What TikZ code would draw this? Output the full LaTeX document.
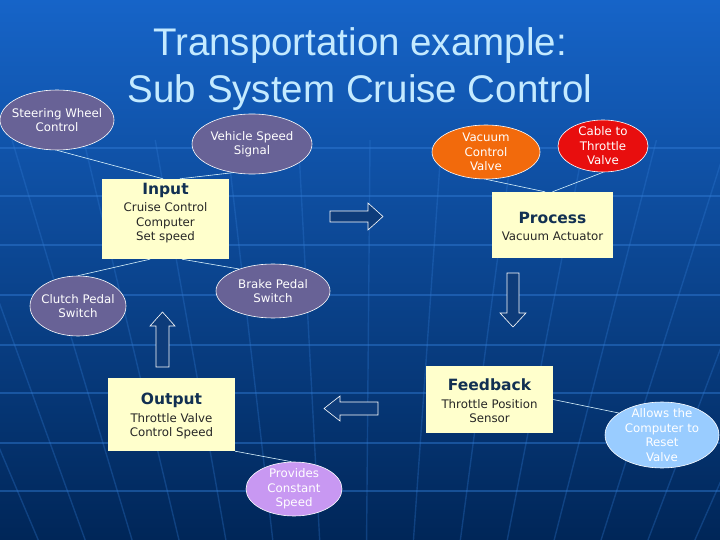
\documentclass[tikz,border=0pt]{standalone}
\usepackage{fontspec}
\setmainfont{DejaVu Sans}
\newfontfamily\titlefont{Liberation Sans}
\usetikzlibrary{shapes.geometric}

\definecolor{slidetop}{RGB}{22,100,200}
\definecolor{slidemid}{RGB}{10,72,156}
\definecolor{slidebot}{RGB}{0,38,88}
\definecolor{gridblue}{RGB}{50,125,215}
\definecolor{titlecyan}{RGB}{196,234,255}
\definecolor{slate}{RGB}{104,98,150}
\definecolor{vacorange}{RGB}{242,106,12}
\definecolor{cablered}{RGB}{232,14,14}
\definecolor{lilac}{RGB}{200,152,242}
\definecolor{skyblue}{RGB}{153,204,255}
\definecolor{paleyellow}{RGB}{255,255,204}
\definecolor{headnavy}{RGB}{18,48,82}
\definecolor{arrowblue}{RGB}{14,60,122}

\tikzset{
  bubble/.style={ellipse, draw=white, line width=0.6pt, inner sep=-7pt, text=white, align=center, font=\fontsize{11.8}{14.5}\selectfont},
  stagebox/.style={rectangle, fill=paleyellow, inner sep=0pt},
  stagetext/.style={anchor=north, inner sep=0pt, align=center, text=black!85, font=\fontsize{11.8}{14.5}\selectfont},
  link/.style={draw=white!85!cyan, line width=0.6pt},
  blockarrow/.style={fill=arrowblue, draw=white, line width=0.6pt},
  gridline/.style={draw=gridblue, line width=1.4pt, opacity=0.45}
}
\newcommand{\stagehead}[1]{{\fontsize{15.5}{18}\selectfont\bfseries\color{headnavy}#1}}

\begin{document}
\begin{tikzpicture}[x=1pt,y=1pt,yscale=-1,xscale=1]
	\useasboundingbox (0,0) rectangle (720,540);

	% Background
	\shade[top color=slidetop, middle color=slidemid, bottom color=slidebot] (0,0) rectangle (720,540);
	\foreach \y in {148,196,245,295,345,393,443,491}
		\draw[gridline] (0,\y) -- (720,\y);
	\foreach \k in {0,...,14} {
		\pgfmathsetmacro{\xtop}{360+(17+50*\k-360)*1.432}
		\pgfmathsetmacro{\xbot}{360+(17+50*\k-360)*0.938}
		\draw[gridline, opacity=0.3] (\xtop,140) -- (\xbot,540);
	}

	% Title
	\node[anchor=base, inner sep=0pt, text=titlecyan, font=\titlefont\fontsize{38.5}{47}\selectfont] (titletop) at (360,56) {Transportation example:};
	\node[anchor=base, inner sep=0pt, text=titlecyan, font=\titlefont\fontsize{38.5}{47}\selectfont] (titlebottom) at (360,103) {Sub System Cruise Control};

	% Text Node
	\node[stagebox, minimum width=127, minimum height=80] (input) at (165.5,219) {};
	\node[stagetext] (inputtext) at (165.5,183) {\stagehead{Input}\\[3pt]Cruise Control\\Computer\\Set speed};
	% Text Node
	\node[stagebox, minimum width=121, minimum height=66] (process) at (552.5,225) {};
	\node[stagetext] (processtext) at (552.5,212) {\stagehead{Process}\\[3pt]Vacuum Actuator};
	% Text Node
	\node[stagebox, minimum width=127, minimum height=73] (output) at (171.5,414.5) {};
	\node[stagetext] (outputtext) at (171.5,393) {\stagehead{Output}\\[3pt]Throttle Valve\\Control Speed};
	% Text Node
	\node[stagebox, minimum width=127, minimum height=67] (feedback) at (489.5,399.5) {};
	\node[stagetext] (feedbacktext) at (489.5,379) {\stagehead{Feedback}\\[3pt]Throttle Position\\Sensor};

	% Text Node
	\node[bubble, fill=slate, minimum width=114, minimum height=60] (steering) at (57,120) {Steering Wheel\\Control};
	% Text Node
	\node[bubble, fill=slate, minimum width=120, minimum height=60] (speed) at (252,144) {Vehicle Speed\\Signal};
	% Text Node
	\node[bubble, fill=vacorange, minimum width=108, minimum height=54] (vacuum) at (486,152) {Vacuum\\Control\\Valve};
	% Text Node
	\node[bubble, fill=cablered, minimum width=90, minimum height=52] (cable) at (603,146) {Cable to\\Throttle\\Valve};
	% Text Node
	\node[bubble, fill=slate, minimum width=96, minimum height=60] (clutch) at (78,306) {Clutch Pedal\\Switch};
	% Text Node
	\node[bubble, fill=slate, minimum width=114, minimum height=54] (brake) at (273,291) {Brake Pedal\\Switch};
	% Text Node
	\node[bubble, fill=lilac, minimum width=96, minimum height=54] (constant) at (294,489) {Provides\\Constant\\Speed};
	% Text Node
	\node[bubble, fill=skyblue, minimum width=114, minimum height=66] (reset) at (662,435) {Allows the\\Computer to\\Reset\\Valve};

	% Connection
	\draw[link] (steering.south) -- ([xshift=-2.5pt]input.north);
	% Connection
	\draw[link] (speed.236) -- ([xshift=14.5pt]input.north);
	% Connection
	\draw[link] ([xshift=-15.5pt]input.south) -- (clutch.north);
	% Connection
	\draw[link] ([xshift=16.5pt]input.south) -- (brake.147);
	% Connection
	\draw[link] (vacuum.south) -- ([xshift=-7.5pt]process.north);
	% Connection
	\draw[link] (cable.south) -- (process.north);
	% Connection
	\draw[link] (output.south east) -- (constant.95);
	% Connection
	\draw[link] (feedback.east) -- (reset.153);

	% Block arrows
	\draw[blockarrow] (330,211) -- (368,211) -- (368,203) -- (383,216.5) -- (368,230) -- (368,222) -- (330,222) -- cycle;
	\draw[blockarrow] (507,273) -- (519,273) -- (519,313) -- (526,313) -- (513,327) -- (500,313) -- (507,313) -- cycle;
	\draw[blockarrow] (378,402) -- (340,402) -- (340,396) -- (324,408.5) -- (340,421) -- (340,415) -- (378,415) -- cycle;
	\draw[blockarrow] (156,367) -- (156,326) -- (150,326) -- (162.5,312) -- (175,326) -- (169,326) -- (169,367) -- cycle;

\end{tikzpicture}
\end{document}
